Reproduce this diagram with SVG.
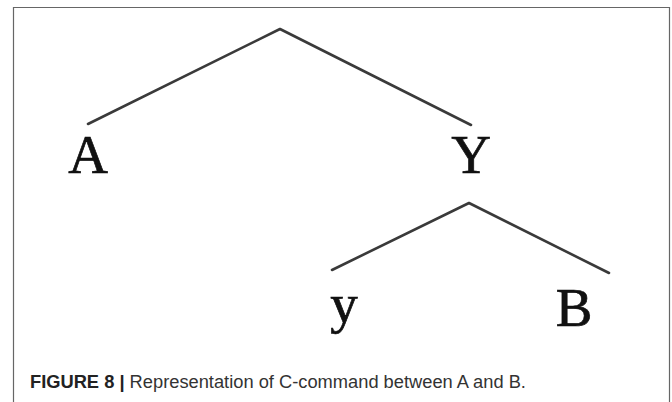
<svg xmlns="http://www.w3.org/2000/svg" width="672" height="402" viewBox="0 0 672 402">
<style>
.lbl{font-family:"Liberation Serif","Times New Roman",serif;font-size:55px;fill:#111;stroke:#111;stroke-width:0.7;text-anchor:middle}
.edge{stroke:#3a3a3a;stroke-width:2.6;fill:none;stroke-linecap:round;stroke-linejoin:round}
.cap{font-family:"Liberation Sans",Arial,sans-serif;font-size:18.3px;fill:#333}
</style>
<rect x="0" y="0" width="672" height="402" fill="#fff"/>
<path d="M13.5 402 V7.5 H669.5 V402" fill="none" stroke="#666" stroke-width="1.2"/>
<g id="connectors">
<polyline class="edge" points="88,124 280,29 471,125"/>
<polyline class="edge" points="332,270 469,203 609,273"/>
</g>
<g id="node-A"><text class="lbl" x="88" y="173">A</text></g>
<g id="node-Y"><text class="lbl" x="471" y="173">Y</text></g>
<g id="node-y"><text class="lbl" x="344" y="322">y</text></g>
<g id="node-B"><text class="lbl" x="574" y="326">B</text></g>
<text class="cap" x="30" y="388"><tspan font-weight="bold" fill="#222">FIGURE 8 |</tspan> Representation of C-command between A and B.</text>
</svg>
